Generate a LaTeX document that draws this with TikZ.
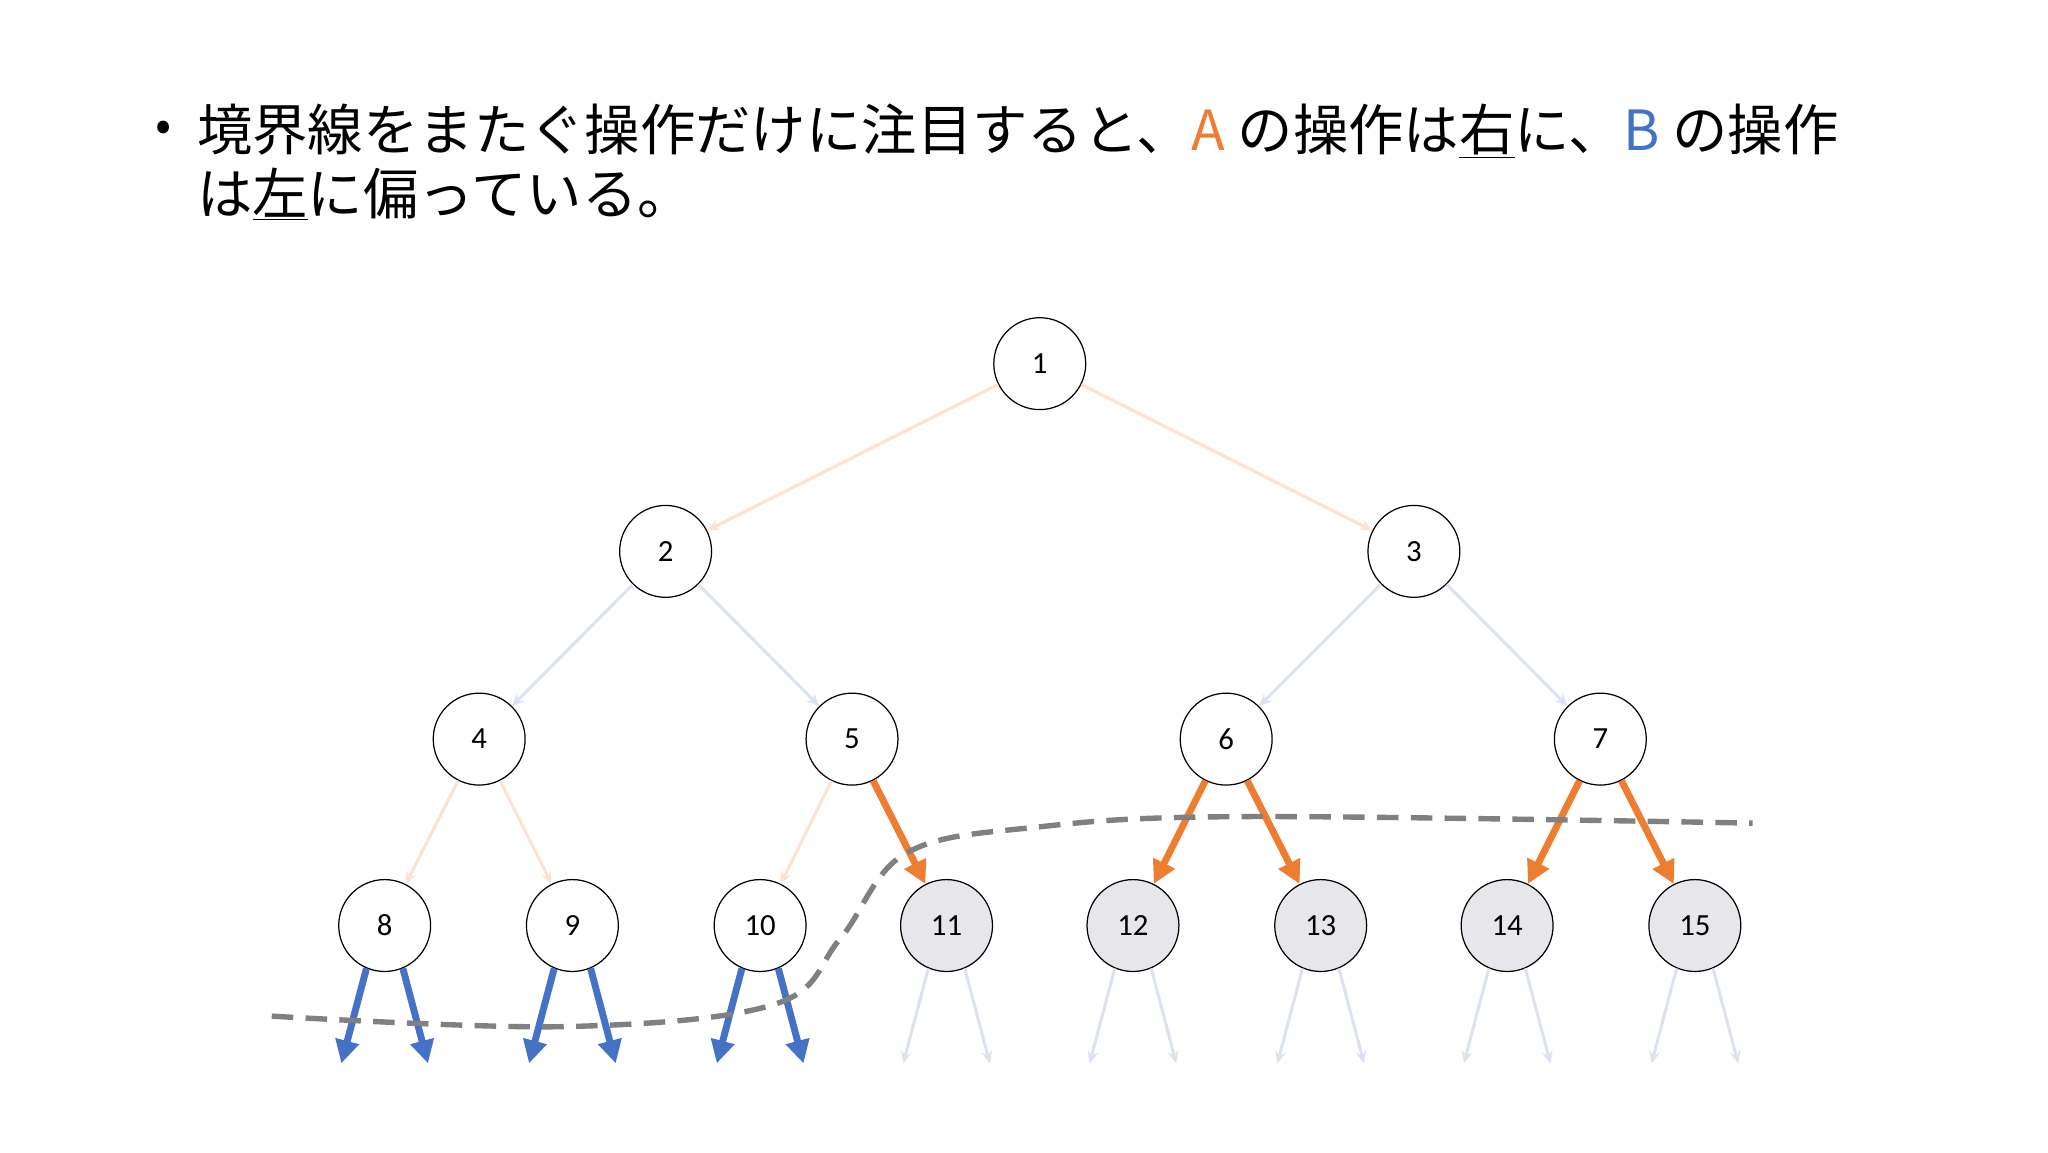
\documentclass[tikz,border=0pt]{standalone}
\usepackage{fontspec}
\setmainfont{Carlito}
\newfontfamily\jp{Noto Sans CJK JP}
\usetikzlibrary{arrows.meta}
\definecolor{aor}{HTML}{ED7D31}
\definecolor{abl}{HTML}{4472C4}
\definecolor{for}{HTML}{FBE2D3}
\definecolor{fbl}{HTML}{DCE2F0}
\definecolor{gfill}{HTML}{E7E6EA}
\begin{document}
\begin{tikzpicture}[x=0.03cm,y=-0.03cm,
  nd/.style={circle,draw=black,line width=0.8pt,minimum size=2.1cm,inner sep=0pt,font=\fontsize{20}{24}\selectfont,fill=white},
  gnd/.style={nd,fill=gfill},
  faintor/.style={draw=for,line width=2pt,-{Stealth[length=8pt,width=7pt]}},
  faintbl/.style={draw=fbl,line width=2pt,-{Stealth[length=8pt,width=7pt]}},
  boldor/.style={draw=aor,line width=4.5pt,-{Triangle[length=15pt,width=15pt]}},
  boldbl/.style={draw=abl,line width=4.5pt,-{Triangle[length=15pt,width=15pt]}}]
\useasboundingbox (0,0) rectangle (1560,878);
\node[anchor=west,font=\jp\fontsize{31}{40}\selectfont,inner sep=0pt] (b) at (118,100) {•};
\node[anchor=west,font=\jp\fontsize{36}{40}\selectfont,inner sep=0pt] (t1) at (150,100) {境界線をまたぐ操作だけに注目すると、\textcolor{aor}{A} の操作は\underline{右}に、\textcolor{abl}{B} の操作};
\node[anchor=west,font=\jp\fontsize{36}{40}\selectfont,inner sep=0pt] (t2) at (150,148) {は\underline{左}に偏っている。};
\foreach \n/\x/\y in {1/792/277,2/507/420,3/1077/420,4/365/563,5/649/563,6/934/563,7/1219/563,8/293/705,9/436/705,10/579/705}
  \node[nd] (n\n) at (\x,\y) {\n};
\foreach \n/\x in {11/721,12/863,13/1006,14/1148,15/1291}
  \node[gnd] (n\n) at (\x,705) {\n};
\draw[faintor] (n1) -- (n2); \draw[faintor] (n1) -- (n3);
\foreach \a/\b in {2/4,2/5,3/6,3/7} \draw[faintbl] (n\a) -- (n\b);
\foreach \a/\b in {4/8,4/9,5/10} \draw[faintor] (n\a) -- (n\b);
\foreach \a/\b in {5/11,6/12,6/13,7/14,7/15} \draw[boldor] (n\a) -- (n\b);
\foreach \n/\x in {8/293,9/436,10/579}{
  \coordinate (l\n) at (\x-33,810); \coordinate (r\n) at (\x+33,810);
  \draw[boldbl] (n\n.-113) -- (l\n); \draw[boldbl] (n\n.-67) -- (r\n);}
\foreach \n/\x in {11/721,12/863,13/1006,14/1148,15/1291}{
  \coordinate (l\n) at (\x-33,810); \coordinate (r\n) at (\x+33,810);
  \draw[faintbl] (n\n.-113) -- (l\n); \draw[faintbl] (n\n.-67) -- (r\n);}
\draw[gray,line width=3.5pt,dash pattern=on 14pt off 8pt] plot[smooth,tension=0.6] coordinates {(207,774) (430,782) (590,765) (640,715) (690,650) (790,630) (950,622) (1335,627)};
\end{tikzpicture}
\end{document}
